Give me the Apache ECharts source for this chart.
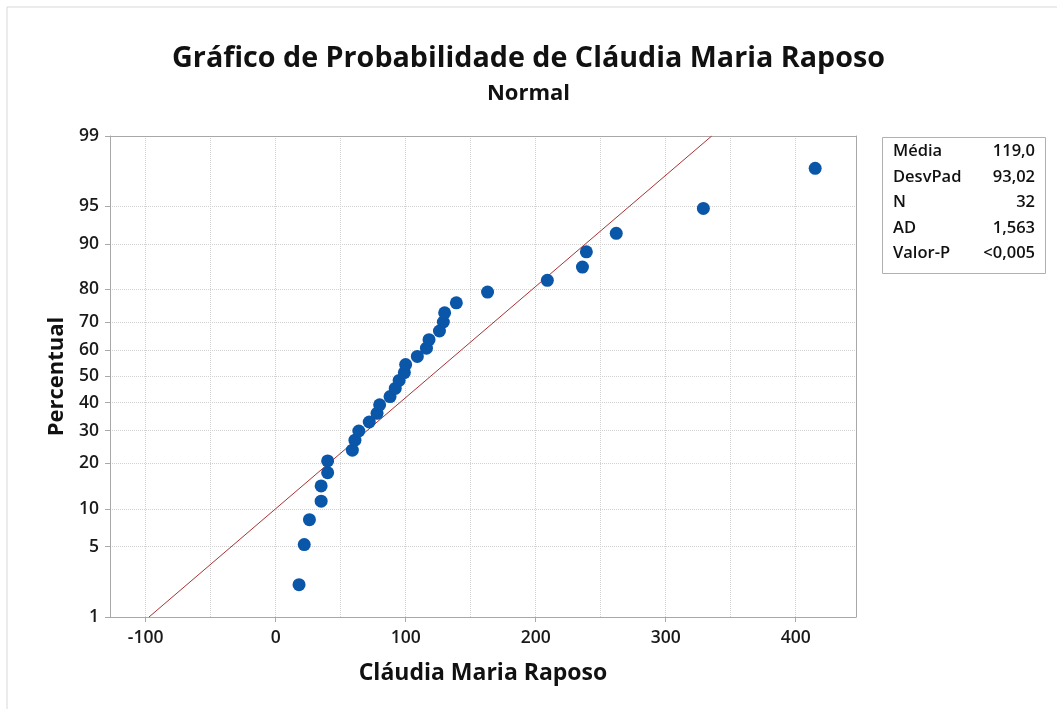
<!DOCTYPE html>
<html>
<head>
<meta charset="utf-8">
<title>Gráfico de Probabilidade</title>
<script src="https://cdn.jsdelivr.net/npm/echarts@6/dist/echarts.min.js"></script>
<style>
    html, body { margin: 0; padding: 0; background: #fff; }
    .main { width: 1057px; height: 709px; }
</style>
</head>
<body>
<div class="main"></div>
<script>
// dados
var valores = [18, 22, 26, 35, 35, 40, 40, 59, 61, 64, 72, 78, 80, 88, 92, 95,
    99, 100, 109, 116, 118, 126, 129, 130, 139, 163, 209, 236, 239, 262, 329, 415];
var percentuais = [2.2, 5.2, 8.3, 11.4, 14.5, 17.6, 20.7, 23.8, 26.9, 29.9, 33.0, 36.1,
    39.2, 42.3, 45.4, 48.5, 51.5, 54.6, 57.7, 60.8, 63.9, 67.0, 70.1, 73.1,
    76.2, 79.3, 82.4, 85.5, 88.6, 91.7, 94.8, 97.8];
var yTicks = [1, 5, 10, 20, 30, 40, 50, 60, 70, 80, 90, 95, 99];
var xTicks = [-100, 0, 100, 200, 300, 400];
var xGrade = [-100, -50, 0, 50, 100, 150, 200, 250, 300, 350, 400];
var media = 119.0;
var desvPad = 93.02;
var linhaPercentuais = [1, 99];
var statNomes = ['Média', 'DesvPad', 'N', 'AD', 'Valor-P'];
var statValores = ['119,0', '93,02', '32', '1,563', '<0,005'];

// inversa da normal (Acklam)
function normInv(p) {
    var a = [-3.969683028665376e+01, 2.209460984245205e+02, -2.759285104469687e+02,
        1.383577518672690e+02, -3.066479806614716e+01, 2.506628277459239e+00];
    var b = [-5.447609879822406e+01, 1.615858368580409e+02, -1.556989798598866e+02,
        6.680131188771972e+01, -1.328068155288572e+01];
    var c = [-7.784894002430293e-03, -3.223964580411365e-01, -2.400758277161838e+00,
        -2.549732539343734e+00, 4.374664141464968e+00, 2.938163982698783e+00];
    var d = [7.784695709041462e-03, 3.224671290700398e-01, 2.445134137142996e+00,
        3.754408661907416e+00];
    var pl = 0.02425, q, r;
    if (p < pl) {
        q = Math.sqrt(-2 * Math.log(p));
        return (((((c[0] * q + c[1]) * q + c[2]) * q + c[3]) * q + c[4]) * q + c[5]) /
            ((((d[0] * q + d[1]) * q + d[2]) * q + d[3]) * q + 1);
    }
    if (p > 1 - pl) {
        q = Math.sqrt(-2 * Math.log(1 - p));
        return -(((((c[0] * q + c[1]) * q + c[2]) * q + c[3]) * q + c[4]) * q + c[5]) /
            ((((d[0] * q + d[1]) * q + d[2]) * q + d[3]) * q + 1);
    }
    q = p - 0.5;
    r = q * q;
    return (((((a[0] * r + a[1]) * r + a[2]) * r + a[3]) * r + a[4]) * r + a[5]) * q /
        (((((b[0] * r + b[1]) * r + b[2]) * r + b[3]) * r + b[4]) * r + 1);
}

(function () {
    var myChart = echarts.init(document.querySelector('.main'));
    var fonte = '"Open Sans", "Noto Sans", sans-serif';

    var yZ = yTicks.map(function (p) { return normInv(p / 100); });
    var yMin = normInv(0.01), yMax = normInv(0.99);

    var pontos = valores.map(function (v, i) {
        return [v, normInv(percentuais[i] / 100)];
    });
    var linha = linhaPercentuais.map(function (p) {
        var z = normInv(p / 100);
        return [media + z * desvPad, z];
    });

    function rotuloY(v) {
        var melhor = 0;
        for (var i = 0; i < yZ.length; i++) {
            if (Math.abs(yZ[i] - v) < Math.abs(yZ[melhor] - v)) melhor = i;
        }
        return String(yTicks[melhor]);
    }

    var grade = { show: true, lineStyle: { color: '#d2d2d2', type: 'dotted', width: 1 } };
    var eixo = { show: true, onZero: false, lineStyle: { color: '#a8a8a8', width: 1 } };
    var rotulo = { fontFamily: fonte, fontSize: 17.5, fontWeight: 600, color: '#1a1a1a' };

    var statTextos = [];
    for (var i = 0; i < statNomes.length; i++) {
        statTextos.push({
            type: 'text', left: 893, top: 143 + i * 25.5,
            style: { text: statNomes[i], font: '600 16.5px ' + fonte, fill: '#111' }
        });
        statTextos.push({
            type: 'text', right: 1057 - 1035, top: 143 + i * 25.5,
            style: { text: statValores[i], font: '600 16.5px ' + fonte, fill: '#111', textAlign: 'right' }
        });
    }

    var option = {
        backgroundColor: '#fff',
        animation: false,
        title: {
            text: 'Gráfico de Probabilidade de Cláudia Maria Raposo',
            subtext: 'Normal',
            left: 'center',
            top: 39,
            itemGap: 10,
            textStyle: { fontFamily: fonte, fontWeight: 'bold', fontSize: 28.7, color: '#111' },
            subtextStyle: { fontFamily: fonte, fontWeight: 'bold', fontSize: 22, color: '#111' }
        },
        grid: { left: 110, right: 201, top: 136, bottom: 92, containLabel: false },
        xAxis: [
            {
                type: 'value', position: 'bottom', min: -127.4, max: 446.4,
                name: 'Cláudia Maria Raposo', nameLocation: 'middle', nameGap: 45,
                nameTextStyle: { fontFamily: fonte, fontWeight: 'bold', fontSize: 23, color: '#111' },
                axisLine: eixo,
                axisTick: { show: true, length: 5, lineStyle: { color: '#a8a8a8' }, customValues: xTicks },
                axisLabel: Object.assign({ customValues: xTicks, margin: 12 }, rotulo),
                splitLine: { show: false }
            },
            {
                type: 'value', position: 'top', min: -127.4, max: 446.4,
                axisLine: eixo,
                axisTick: { show: false, customValues: xGrade },
                axisLabel: { show: false },
                splitLine: grade
            }
        ],
        yAxis: [
            {
                type: 'value', position: 'left', min: yMin, max: yMax,
                name: 'Percentual', nameLocation: 'middle', nameGap: 42,
                nameTextStyle: { fontFamily: fonte, fontWeight: 'bold', fontSize: 22, color: '#111' },
                axisLine: eixo,
                axisTick: { show: true, length: 5, lineStyle: { color: '#a8a8a8' }, customValues: yZ },
                axisLabel: Object.assign({ customValues: yZ, margin: 11, formatter: rotuloY }, rotulo),
                splitLine: grade
            },
            {
                type: 'value', position: 'right', min: yMin, max: yMax,
                axisLine: eixo,
                axisTick: { show: false },
                axisLabel: { show: false },
                splitLine: { show: false }
            }
        ],
        graphic: [
            { type: 'line', shape: { x1: 7, y1: 7, x2: 1057, y2: 7 }, style: { stroke: '#d8d8d8', lineWidth: 1 } },
            { type: 'line', shape: { x1: 7, y1: 7, x2: 7, y2: 709 }, style: { stroke: '#d8d8d8', lineWidth: 1 } },
            {
                type: 'rect', left: 882, top: 137,
                shape: { width: 163, height: 136 },
                style: { fill: '#fff', stroke: '#b0b0b0', lineWidth: 1 }
            }
        ].concat(statTextos),
        series: [
            {
                name: 'ajuste',
                type: 'line',
                data: linha,
                symbol: 'none',
                lineStyle: { color: '#a83232', width: 1 },
                z: 2
            },
            {
                name: 'Cláudia Maria Raposo',
                type: 'scatter',
                data: pontos,
                symbol: 'circle',
                symbolSize: 13,
                itemStyle: { color: '#0a56a8', opacity: 1 },
                z: 3
            }
        ]
    };

    myChart.setOption(option);
    window.addEventListener('resize', function () {
        myChart.resize();
    });
})();
</script>
</body>
</html>
